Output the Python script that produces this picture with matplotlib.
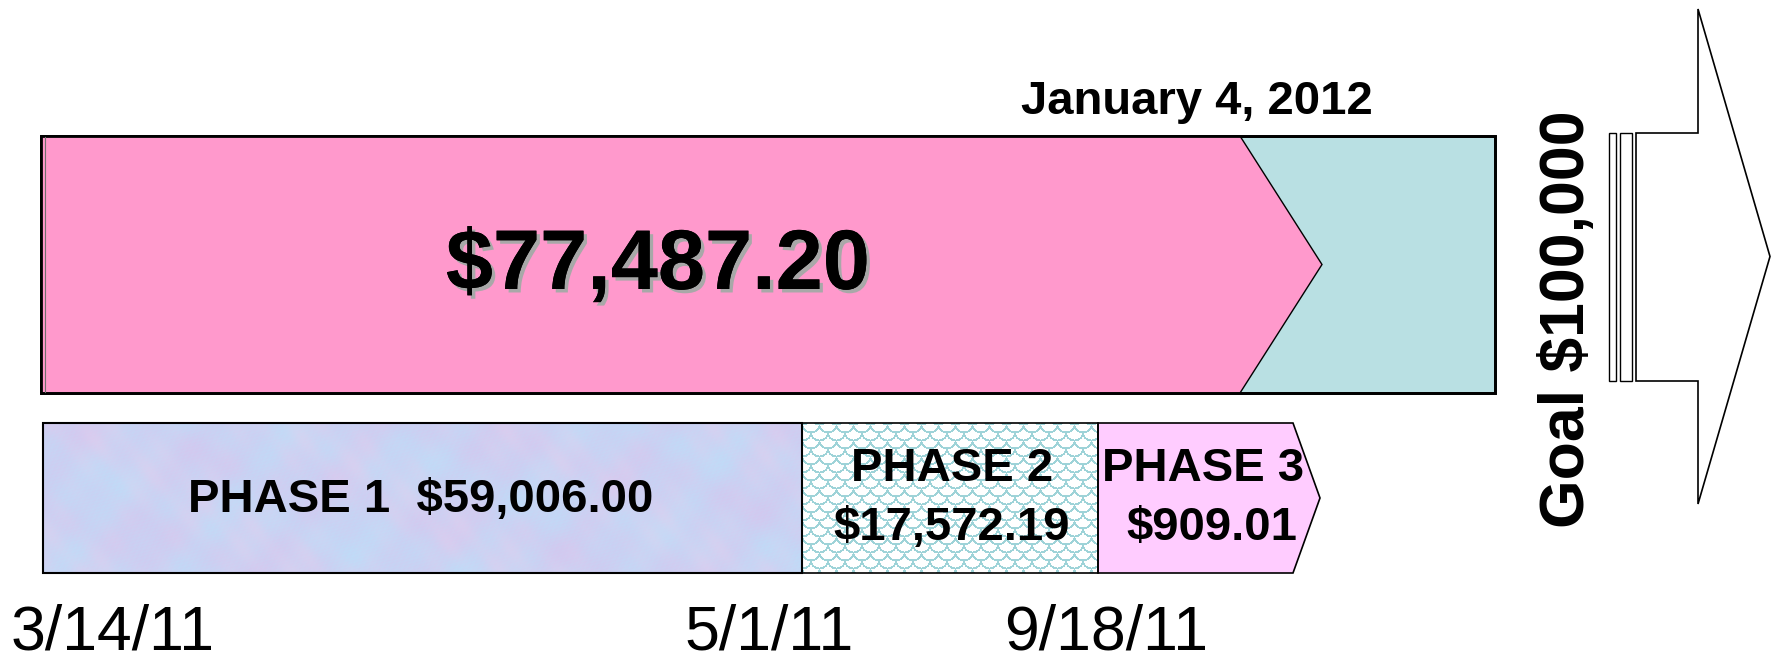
import numpy as np
import matplotlib
matplotlib.use("Agg")
import matplotlib.pyplot as plt
from matplotlib.patches import Polygon, Rectangle
import matplotlib.patheffects as pe

# ---------------- data ----------------
phase_labels = ["PHASE 1", "PHASE 2", "PHASE 3"]
phase_amounts = [59006.00, 17572.19, 909.01]
phase_dates = ["3/14/11", "5/1/11", "9/18/11"]
goal_amount = 100000
as_of_date = "January 4, 2012"
total_raised = sum(phase_amounts)

# ---------------- layout (pixels) ----------------
W, H = 1779, 660
fig = plt.figure(figsize=(W / 100, H / 100), dpi=100)
ax = fig.add_axes([0, 0, 1, 1])
ax.set_xlim(0, W)
ax.set_ylim(H, 0)
ax.axis("off")

FONT = ["Liberation Sans", "DejaVu Sans"]
PINK = "#FF99CC"
TEAL = "#B9E0E3"
PINK3 = "#FFCCFF"

# top progress bar
bar_l, bar_r, bar_t, bar_b = 41, 1495, 136, 393
notch_x, tip_x = 1240, 1322
bar_mid = (bar_t + bar_b) / 2
ax.add_patch(Rectangle((bar_l, bar_t), bar_r - bar_l, bar_b - bar_t,
                       facecolor=TEAL, edgecolor="black", lw=2.0, zorder=1))
ax.add_patch(Polygon([(bar_l, bar_t), (notch_x, bar_t), (tip_x, bar_mid),
                      (notch_x, bar_b), (bar_l, bar_b)], closed=True,
                     facecolor=PINK, edgecolor="black", lw=1.0, zorder=2))
ax.add_patch(Rectangle((bar_l, bar_t), bar_r - bar_l, bar_b - bar_t,
                       facecolor="none", edgecolor="black", lw=2.0, zorder=3))
ax.plot([bar_l + 4, bar_l + 4], [bar_t + 1, bar_b - 1], color="#707070", lw=0.8, zorder=3)

ax.text(658, 267, f"${total_raised:,.2f}", fontsize=61, fontweight="bold",
        family=FONT, ha="center", va="center", color="black", zorder=5,
        path_effects=[pe.withSimplePatchShadow(offset=(2.5, -2.5), shadow_rgbFace="#A8A8A8", alpha=1.0),
                      pe.Normal()])
ax.text(1197, 102, as_of_date, fontsize=34, fontweight="bold", family=FONT,
        ha="center", va="center", color="black")

# phase row
row_t, row_b = 423, 573
row_mid = (row_t + row_b) / 2
p_edges = [43, 802, 1098, 1293]
p3_tip = 1320

# Phase 1 mottled texture (deterministic)
w1, h1 = p_edges[1] - p_edges[0], row_b - row_t
yy, xx = np.mgrid[0:h1, 0:w1].astype(float)
n1 = (np.sin(xx * 0.043 + yy * 0.031) + np.sin(xx * 0.017 - yy * 0.067 + 1.3)
      + 0.6 * np.sin(xx * 0.11 + yy * 0.09 + 2.1) + 0.5 * np.sin(xx * 0.071 - yy * 0.13 + 0.4))
n2 = (np.sin(xx * 0.029 - yy * 0.045 + 0.7) + 0.7 * np.sin(xx * 0.093 + yy * 0.051 + 1.9)
      + 0.5 * np.sin(xx * 0.21 - yy * 0.17))
fine = 0.5 * np.sin(xx * 0.9 + yy * 1.3) * np.sin(xx * 0.37 - yy * 0.71)
t1 = np.clip(0.5 + n1 / 6 + fine * 0.25, 0, 1)[..., None]
t2 = np.clip(0.5 + n2 / 4.4, 0, 1)[..., None]
blue = np.array([0.75, 0.86, 0.97])
lilac = np.array([0.82, 0.79, 0.94])
pinkish = np.array([0.90, 0.81, 0.93])
tex1 = blue * (1 - t1) + lilac * t1
tex1 = tex1 * (1 - 0.45 * t2 ** 2) + pinkish * 0.45 * t2 ** 2
ax.imshow(tex1, extent=(p_edges[0], p_edges[1], row_b, row_t), origin="upper",
          interpolation="bilinear", zorder=1, aspect="auto")

# Phase 2 fish-scale texture (deterministic), painted bottom row first
w2 = p_edges[2] - p_edges[1]
yy2, xx2 = np.mgrid[0:h1, 0:w2].astype(float)
tex2 = np.ones((h1, w2, 3))
line_c = np.array([0.62, 0.83, 0.85])
per, rowh, rad = 17.0, 8.0, 9.0
for j in range(int(h1 / rowh) + 3, -3, -1):
    cy = j * rowh
    off = (j % 2) * per / 2
    dx = ((xx2 - off) % per) - per / 2
    dy = yy2 - cy
    d = np.sqrt(dx ** 2 + dy ** 2)
    inside = d < rad
    tex2[inside] = 1.0
    ring = (np.abs(d - rad) < 1.0) & (dy > -1)
    tex2[ring] = line_c
ax.imshow(tex2, extent=(p_edges[1], p_edges[2], row_b, row_t), origin="upper",
          interpolation="bilinear", zorder=1, aspect="auto")

ax.add_patch(Rectangle((p_edges[0], row_t), p_edges[1] - p_edges[0], h1,
                       facecolor="none", edgecolor="black", lw=1.5, zorder=3))
ax.add_patch(Rectangle((p_edges[1], row_t), p_edges[2] - p_edges[1], h1,
                       facecolor="none", edgecolor="black", lw=1.2, zorder=3))
ax.add_patch(Polygon([(p_edges[2], row_t), (p_edges[3], row_t), (p3_tip, row_mid),
                      (p_edges[3], row_b), (p_edges[2], row_b)], closed=True,
                     facecolor=PINK3, edgecolor="black", lw=1.2, zorder=2))

ax.text(421, row_mid + 2, f"{phase_labels[0]}  ${phase_amounts[0]:,.2f}", fontsize=34,
        fontweight="bold", family=FONT, ha="center", va="center", zorder=4)
ax.text(952, 469, phase_labels[1], fontsize=34, fontweight="bold", family=FONT,
        ha="center", va="center", zorder=4)
ax.text(952, 528, f"${phase_amounts[1]:,.2f}", fontsize=34, fontweight="bold", family=FONT,
        ha="center", va="center", zorder=4)
ax.text(1203, 469, phase_labels[2], fontsize=34, fontweight="bold", family=FONT,
        ha="center", va="center", zorder=4)
ax.text(1212, 528, f"${phase_amounts[2]:,.2f}", fontsize=34, fontweight="bold", family=FONT,
        ha="center", va="center", zorder=4)

# date labels
for xc, lab in zip([113, 769, 1106], phase_dates):
    ax.text(xc, 650, lab, fontsize=45, family=FONT, ha="center", va="baseline")

# goal arrow
a_l, a_n, a_tip = 1636, 1698, 1770
a_top, a_bot = 9, 504
s_top, s_bot = 133, 381
a_mid = (a_top + a_bot) / 2
ax.add_patch(Polygon([(a_l, s_top), (a_n, s_top), (a_n, a_top), (a_tip, a_mid),
                      (a_n, a_bot), (a_n, s_bot), (a_l, s_bot)], closed=True,
                     facecolor="white", edgecolor="black", lw=1.2, zorder=2))
ax.add_patch(Rectangle((1609, s_top), 7, s_bot - s_top, facecolor="white",
                       edgecolor="black", lw=1.0, zorder=2))
ax.add_patch(Rectangle((1620, s_top), 12, s_bot - s_top, facecolor="white",
                       edgecolor="black", lw=1.0, zorder=2))
ax.text(1567, 319, f"Goal ${goal_amount:,.0f}", fontsize=45, fontweight="bold",
        family=FONT, rotation=90, ha="center", va="center")

fig.savefig("out.png", dpi=100)
